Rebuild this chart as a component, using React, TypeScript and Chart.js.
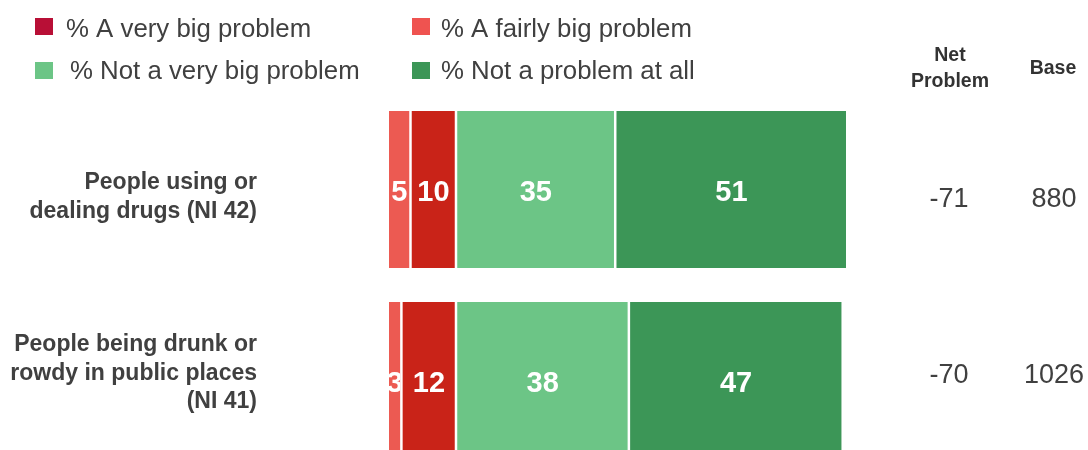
import React, { useEffect, useRef } from "react";
import { Chart, registerables } from "chart.js";

Chart.register(...registerables);

// ---- Data ----
const categories = ["People using or dealing drugs (NI 42)", "People being drunk or rowdy in public places (NI 41)"];
const categoryLines = [
  ["People using or", "dealing drugs (NI 42)"],
  ["People being drunk or", "rowdy in public places", "(NI 41)"],
];
const fairlyBig = [5, 3];
const veryBig = [10, 12];
const notVeryBig = [35, 38];
const notAtAll = [51, 47];
const netProblem = [-71, -70];
const baseCounts = [880, 1026];
const legendLabels = [
  "% A very big problem",
  "% A fairly big problem",
  "% Not a very big problem",
  "% Not a problem at all",
];
const headerNet = ["Net", "Problem"];
const headerBase = "Base";

// ---- Styles ----
const FONT = '"Liberation Sans", Arial, Helvetica, sans-serif';
const TEXT = "#404040";
const C_FAIRLY = "#ec5a52";
const C_VERY = "#c92318";
const C_NOTVERY = "#6cc586";
const C_NOTATALL = "#3c9657";
const LEGEND_COLORS = ["#b80f36", "#ef5350", "#6cc586", "#3c9657"];

const overlayPlugin = {
  id: "overlay",
  afterDatasetsDraw(chart: any) {
    const ctx = chart.ctx;
    ctx.save();
    ctx.fillStyle = "#ffffff";
    ctx.font = `bold 29px ${FONT}`;
    ctx.textAlign = "center";
    ctx.textBaseline = "alphabetic";
    chart.data.datasets.forEach((ds: any, di: number) => {
      const meta = chart.getDatasetMeta(di);
      meta.data.forEach((el: any, i: number) => {
        const p = el.getProps(["x", "base", "y", "height"], true);
        const left = Math.min(p.x, p.base);
        const right = Math.max(p.x, p.base);
        ctx.save();
        ctx.beginPath();
        ctx.rect(left, p.y - p.height / 2, right - left - 1.5, p.height);
        ctx.clip();
        ctx.fillText(String(ds.data[i]), (left + right) / 2, p.y + 11);
        ctx.restore();
      });
    });
    ctx.restore();
  },
  afterDraw(chart: any) {
    const ctx = chart.ctx;
    const yScale = chart.scales.y;
    ctx.save();
    const rowShift = [6.5, -8.5];
    categoryLines.forEach((lines, i) => {
      const rowC = yScale.getPixelForValue(i) + rowShift[i];
      // category labels
      ctx.font = `bold 23px ${FONT}`;
      ctx.fillStyle = TEXT;
      ctx.textAlign = "right";
      ctx.textBaseline = "alphabetic";
      const lh = 28.5;
      const first = rowC - ((lines.length - 1) * lh) / 2 + 7.5;
      lines.forEach((ln, k) => ctx.fillText(ln, 257, first + k * lh));
      // net / base
      ctx.font = `27px ${FONT}`;
      ctx.textAlign = "center";
      ctx.fillText(String(netProblem[i]), 949, rowC + 10.5);
      ctx.fillText(String(baseCounts[i]), 1054, rowC + 10.5);
    });
    // headers
    ctx.font = `bold 19.5px ${FONT}`;
    ctx.textAlign = "center";
    ctx.fillStyle = "#333333";
    ctx.fillText(headerNet[0], 950, 61);
    ctx.fillText(headerNet[1], 950, 87);
    ctx.fillText(headerBase, 1053, 74);
    // legend
    const pos = [
      { mx: 35, my: 18, tx: 66, ty: 37 },
      { mx: 412, my: 18, tx: 441, ty: 37 },
      { mx: 35, my: 62, tx: 70, ty: 79 },
      { mx: 412, my: 62, tx: 441, ty: 79 },
    ];
    ctx.font = `25.8px ${FONT}`;
    ctx.textAlign = "left";
    legendLabels.forEach((lab, i) => {
      const p = pos[i];
      ctx.fillStyle = LEGEND_COLORS[i];
      ctx.fillRect(p.mx, p.my, 18, 17);
      ctx.fillStyle = TEXT;
      ctx.fillText(lab, p.tx, p.ty);
    });
    ctx.restore();
  },
};

export default function App() {
  const ref = useRef<HTMLCanvasElement | null>(null);
  useEffect(() => {
    if (!ref.current) return;
    const border = { left: 1, right: 1.5, top: 0, bottom: 0 };
    const mk = (label: string, data: number[], color: string) => ({
      label,
      data,
      backgroundColor: color,
      borderColor: "#ffffff",
      borderWidth: border,
      borderSkipped: false,
      barPercentage: 157 / 191,
      categoryPercentage: 1,
    });
    const chart = new Chart(ref.current, {
      type: "bar",
      data: {
        labels: categories,
        datasets: [
          mk(legendLabels[1], fairlyBig, C_FAIRLY),
          mk(legendLabels[0], veryBig, C_VERY),
          mk(legendLabels[2], notVeryBig, C_NOTVERY),
          mk(legendLabels[3], notAtAll, C_NOTATALL),
        ] as any,
      },
      options: {
        indexAxis: "y",
        responsive: false,
        animation: false,
        layout: { padding: { left: 388, right: 240.5, top: 94, bottom: 0 } },
        scales: {
          x: { stacked: true, display: false, min: 0, max: 101 },
          y: { stacked: true, display: false },
        },
        plugins: {
          legend: { display: false },
          tooltip: { enabled: false },
        },
      },
      plugins: [overlayPlugin],
    });
    return () => chart.destroy();
  }, []);
  return (
    <div style={{ position: "fixed", left: 0, top: 0, width: 1088, height: 450, overflow: "hidden", background: "#fff" }}>
      <canvas ref={ref} width={1088} height={476} style={{ display: "block" }} />
    </div>
  );
}
